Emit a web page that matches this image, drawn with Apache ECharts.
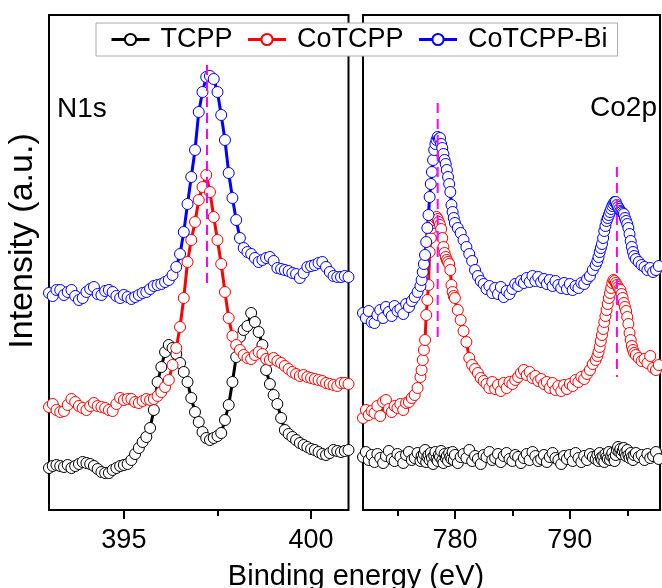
<!DOCTYPE html>
<html><head><meta charset="utf-8">
<script src="https://cdn.jsdelivr.net/npm/echarts@6/dist/echarts.min.js"></script>
<style>html,body{margin:0;padding:0;background:#fff}#c{width:662px;height:588px}</style>
</head><body><div id="c"></div><script>
const FONT = '"Liberation Sans", Arial, Helvetica, sans-serif';
const seriesNames = ['TCPP', 'CoTCPP', 'CoTCPP-Bi'];
const seriesColors = ['#000000', '#ff0000', '#0000ff'];

// N1s panel: sampled from 393.0 eV in 0.1 eV steps
const n1sStart = 393.0, n1sStep = 0.1;
const n1sTCPP = [42,44,45,44,43,45,42,44,46,48, 47,46,44,41,38,37,37,40,42,44, 45,46,50,56,62,68,73,82,100,128,
  143,158,165,162,156,147,138,128,112,98, 88,78,72,70,72,74,77,90,105,128, 153,173,180,184,197,188,178,165,140,126,
  115,106,92,80,76,73,70,67,65,63, 61,60,58,56,55,57,60,59,58,59, 60];
const n1sCoTCPP = [103,106,100,98,99,105,111,108,104,102, 100,104,107,104,103,102,100,99,106,112, 110,111,111,108,107,109,111,110,111,114,
  118,123,130,145,162,183,212,248,270,288, 310,323,335,318,293,270,246,218,192,174, 165,160,155,152,151,155,158,156,151,150,
  152,149,147,144,141,138,136,134,135,133, 132,131,130,129,127,126,125,124,127,127, 126];
const n1sCoTCPPBi = [217,214,220,220,215,218,220,214,210,212, 218,221,223,216,215,219,220,218,214,212, 215,213,211,213,215,217,218,221,224,225,
  226,228,230,235,243,256,278,306,333,360, 398,418,433,434,431,418,395,370,337,312, 290,272,262,258,256,252,248,250,252,253,
  249,242,241,240,239,237,236,232,237,243, 244,245,247,248,243,238,234,233,233,234, 233];

// Co2p panel: sampling grid segments [start, step, count]
const co2pGrid = [[772, 0.25, 20], [777, 0.1, 30], [780, 0.25, 50], [792.4, 0.1, 33], [795.75, 0.25, 10]];
const co2pTCPP = [53,58,50,55,48,56,52,47,54,59,51,49,56,53,47,55,58,50,52,57,
  49,54,51,56,60,48,53,55,50,57,52,46,54,58,51,49,55,53,59,50,47,56,52,54,49,57,53,51,58,50,
  55,47,53,56,52,60,49,54,51,46,55,53,58,50,52,56,48,54,57,51,49,55,53,47,52,56,50,58,54,49,51,55,48,53,57,52,50,46,54,51,55,49,57,52,48,54,50,56,53,51,
  55,49,57,52,50,54,48,56,53,51,58,50,54,57,52,49,55,60,63,58,61,56,59,62,57,54,60,55,52,57,53,50,55,
  57,53,55,50,56,52,54,58,51,55];
const co2pCoTCPP = [92,100,95,99,97,104,94,108,110,101,98,104,102,106,100,107,108,112,115,122,
  133,140,150,160,170,195,210,225,258,272,282,287,290,292,293,291,288,285,281,272,263,257,253,250,248,246,240,225,218,214,
  212,200,190,179,168,152,145,141,137,132,129,126,122,128,121,125,119,127,122,128,126,130,133,137,140,135,138,132,134,129,131,126,128,122,127,120,124,119,125,121,126,124,130,128,133,131,136,140,146,150,
  154,158,163,169,175,181,188,194,200,206,212,217,222,227,230,229,227,225,223,221,220,216,212,207,203,199,193,186,177,170,164,160,157,
  155,152,149,151,147,154,142,140,145,148];
const co2pCoTCPPBi = [197,192,199,188,187,195,200,192,203,198,194,204,199,201,196,206,203,209,213,218,
  224,230,238,246,255,268,282,295,313,326,338,350,360,366,370,373,371,372,366,362,356,350,346,340,333,326,318,305,298,292,
  287,282,277,270,263,256,249,240,234,229,226,221,224,217,222,216,223,213,219,216,221,226,224,229,227,232,228,234,229,233,228,231,226,230,224,229,225,222,227,221,226,220,224,222,227,226,231,234,240,245,
  249,253,258,262,266,272,279,284,289,292,295,298,301,304,306,308,308,305,303,301,299,298,297,296,292,289,286,282,276,269,263,258,254,
  251,248,245,243,240,242,238,240,244,241];

// Ticks and reference (dashed) lines
const n1sMajorTicks = [395, 400], n1sMinorTicks = [397.5];
const co2pMajorTicks = [780, 790], co2pMinorTicks = [775, 785, 795];
const n1sRefLines = [[397.22, 445, 225]];
const co2pRefLines = [[778.5, 407, 168], [794.1, 343, 133]];

function n1sX() { const xs = []; for (let i = 0; i < n1sTCPP.length; i++) xs.push(+(n1sStart + i * n1sStep).toFixed(2)); return xs; }
function co2pX() { const xs = []; co2pGrid.forEach(([s, st, n]) => { for (let i = 0; i < n; i++) xs.push(+(s + i * st).toFixed(2)); }); return xs; }
function pairs(xs, ys) { return ys.map((y, i) => [xs[i], y]); }

const xN = n1sX(), xC = co2pX();
const n1sData = [n1sTCPP, n1sCoTCPP, n1sCoTCPPBi];
const co2pData = [co2pTCPP, co2pCoTCPP, co2pCoTCPPBi];

function dataSeries(name, color, data, xi, yi) {
  return {
    type: 'line', name: name, xAxisIndex: xi, yAxisIndex: yi, data: data,
    symbol: 'circle', symbolSize: 11, showAllSymbol: true,
    itemStyle: { color: '#ffffff', borderColor: color, borderWidth: 1 },
    lineStyle: { color: color, width: 3 },
    emphasis: { disabled: true }, silent: true
  };
}
function refSeries(r, xi, yi) {
  return {
    type: 'line', name: 'ref', xAxisIndex: xi, yAxisIndex: yi, z: 10,
    data: [[r[0], r[1]], [r[0], r[2]]], symbol: 'none', silent: true,
    lineStyle: { color: '#ff00ff', width: 2, type: [10, 6] }
  };
}

const series = [];
seriesNames.forEach((nm, k) => series.push(dataSeries(nm, seriesColors[k], pairs(xN, n1sData[k]), 0, 0)));
seriesNames.forEach((nm, k) => series.push(dataSeries(nm, seriesColors[k], pairs(xC, co2pData[k]), 2, 1)));
n1sRefLines.forEach(r => series.push(refSeries(r, 0, 0)));
co2pRefLines.forEach(r => series.push(refSeries(r, 2, 1)));

function xAxis(grid, min, max, ticks, len, labels) {
  return {
    type: 'value', gridIndex: grid, min: min, max: max, position: 'bottom',
    axisLine: { show: false }, splitLine: { show: false },
    axisTick: { show: true, customValues: ticks, length: len, inside: false, lineStyle: { color: '#000', width: 2 } },
    axisLabel: labels ? { show: true, customValues: ticks, fontSize: 27, color: '#000', margin: 17, fontFamily: FONT } : { show: false }
  };
}

const chart = echarts.init(document.getElementById('c'), null, { renderer: 'canvas' });
chart.setOption({
  animation: false,
  backgroundColor: '#ffffff',
  grid: [
    { left: 49, top: 15, width: 299.5, height: 495, show: true, borderColor: '#000', borderWidth: 2, backgroundColor: 'transparent', outerBoundsMode: 'none' },
    { left: 363, top: 15, width: 297, height: 495, show: true, borderColor: '#000', borderWidth: 2, backgroundColor: 'transparent', outerBoundsMode: 'none' }
  ],
  xAxis: [
    xAxis(0, 393, 401, n1sMajorTicks, 9, true),
    xAxis(0, 393, 401, n1sMinorTicks, 6, false),
    xAxis(1, 772, 797.85, co2pMajorTicks, 9, true),
    xAxis(1, 772, 797.85, co2pMinorTicks, 6, false)
  ],
  yAxis: [
    { type: 'value', gridIndex: 0, min: 0, max: 495, show: false },
    { type: 'value', gridIndex: 1, min: 0, max: 495, show: false }
  ],
  legend: {
    data: seriesNames, left: 96, top: 23, orient: 'horizontal',
    itemWidth: 38, itemHeight: 14, itemGap: 14, padding: [3, 10, 3, 14],
    borderColor: '#aaaaaa', borderWidth: 1, backgroundColor: '#ffffff', selectedMode: false,
    lineStyle: { width: 3 },
    textStyle: { fontSize: 27, color: '#000', fontFamily: FONT, padding: [0, 0, 0, 6] }
  },
  graphic: [
    { type: 'text', x: 57, y: 109, style: { text: 'N1s', font: '28px ' + FONT, fill: '#000', textAlign: 'left', textVerticalAlign: 'middle' } },
    { type: 'text', x: 657, y: 108, style: { text: 'Co2p', font: '28px ' + FONT, fill: '#000', textAlign: 'right', textVerticalAlign: 'middle' } },
    { type: 'text', x: 23, y: 241, rotation: Math.PI / 2, style: { text: 'Intensity (a.u.)', font: '34px ' + FONT, fill: '#000', textAlign: 'center', textVerticalAlign: 'middle' } },
    { type: 'text', x: 356, y: 577, style: { text: 'Binding energy (eV)', font: '29px ' + FONT, fill: '#000', textAlign: 'center', textVerticalAlign: 'middle' } }
  ],
  series: series
});
</script></body></html>
